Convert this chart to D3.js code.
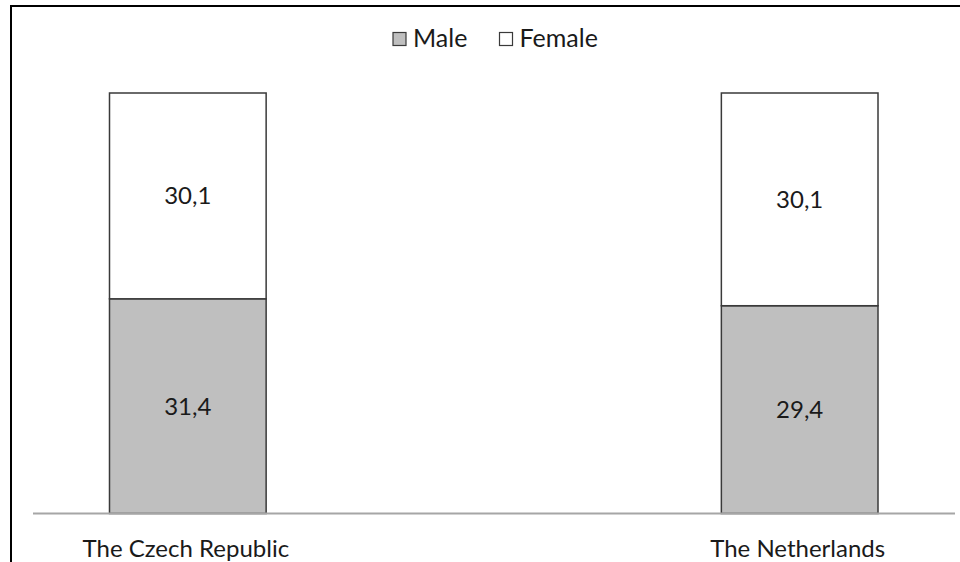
<!DOCTYPE html>
<html>
<head>
<meta charset="utf-8">
<script src="https://cdn.jsdelivr.net/npm/d3@7"></script>
<style>
  body { margin: 0; background: #fff; }
  text { font-family: Lato, "Open Sans", sans-serif; fill: #1a1a1a; }
</style>
</head>
<body>
<script>
// data
const categories = ['The Czech Republic', 'The Netherlands'];
const maleValues = [31.4, 29.4];
const femaleValues = [30.1, 30.1];
const seriesNames = ['Male', 'Female'];
const seriesColors = ['#bfbfbf', '#ffffff'];

const SCREEN = { width: 960, height: 562 };
const plot = { left: 109.5, right: 878, top: 93, bottom: 513.5 };

const svg = d3.select('body').append('svg')
    .attr('width', SCREEN.width)
    .attr('height', SCREEN.height);

// outer chart border (cropped on right / bottom)
svg.append('rect')
    .attr('x', 11)
    .attr('y', 6)
    .attr('width', 1000)
    .attr('height', 600)
    .attr('fill', 'none')
    .attr('stroke', '#000')
    .attr('stroke-width', 2);

const rows = categories.map((c, i) => ({ cat: c, Male: maleValues[i], Female: femaleValues[i] }));

// 100% stacked
const stacked = d3.stack()
    .keys(seriesNames)
    .offset(d3.stackOffsetExpand)(rows);

const x = d3.scaleBand()
    .domain(categories)
    .range([plot.left, plot.right])
    .paddingInner(0.744)
    .paddingOuter(0);

const y = d3.scaleLinear()
    .domain([0, 1])
    .range([plot.bottom, plot.top]);

const layers = svg.append('g').selectAll('g')
    .data(stacked)
    .enter().append('g')
    .attr('fill', (d, i) => seriesColors[i]);

layers.selectAll('rect')
    .data(d => d)
    .enter().append('rect')
    .attr('x', d => x(d.data.cat))
    .attr('y', d => y(d[1]))
    .attr('width', x.bandwidth())
    .attr('height', d => y(d[0]) - y(d[1]))
    .attr('stroke', '#3a3a3a')
    .attr('stroke-width', 1.5);

// value labels
layers.selectAll('text')
    .data((d, i) => d.map(p => ({ p, key: d.key })))
    .enter().append('text')
    .attr('x', d => x(d.p.data.cat) + x.bandwidth() / 2)
    .attr('y', d => (y(d.p[0]) + y(d.p[1])) / 2)
    .attr('dy', '0.35em')
    .attr('text-anchor', 'middle')
    .style('font-size', '24px')
    .text(d => d3.format('.1f')(d.p.data[d.key]).replace('.', ','));

// category axis
svg.append('line')
    .attr('x1', 33)
    .attr('x2', 955)
    .attr('y1', plot.bottom)
    .attr('y2', plot.bottom)
    .attr('stroke', '#a6a6a6')
    .attr('stroke-width', 2);

svg.append('g').selectAll('text')
    .data(categories)
    .enter().append('text')
    .attr('x', d => x(d) + x.bandwidth() / 2 - 2)
    .attr('y', 557)
    .attr('text-anchor', 'middle')
    .style('font-size', '24px')
    .text(d => d);

// legend
const legendItems = [
    { name: 'Male', x: 393 },
    { name: 'Female', x: 499.5 }
];
const legend = svg.append('g');
legendItems.forEach((item, i) => {
    legend.append('rect')
        .attr('x', item.x)
        .attr('y', 32.5)
        .attr('width', 13)
        .attr('height', 13)
        .attr('fill', seriesColors[i])
        .attr('stroke', '#3a3a3a')
        .attr('stroke-width', 1.2);
    legend.append('text')
        .attr('x', item.x + 20)
        .attr('y', 46.5)
        .style('font-size', '25px')
        .text(item.name);
});
</script>
</body>
</html>
